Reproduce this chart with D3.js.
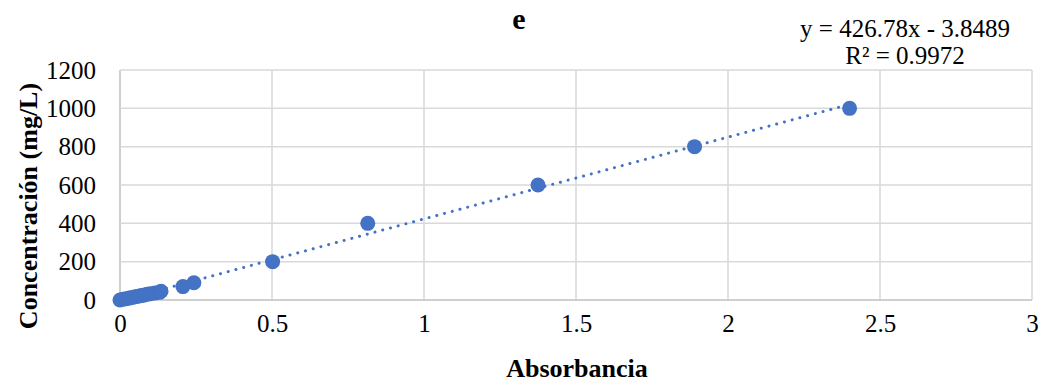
<!DOCTYPE html>
<html lang="en">
<head>
  <meta charset="UTF-8">
  <title>e</title>
  <script src="https://cdnjs.cloudflare.com/ajax/libs/d3/7.8.5/d3.min.js"></script>
  <style>
    body { margin: 0; background: white; }
    svg { display: block; font-family: "Liberation Serif", "Times New Roman", serif; }
  </style>
</head>
<body>
  <script>
    // absorbance vs concentration readings
    var absorbancia = [0, 0.01, 0.02, 0.03, 0.04, 0.05, 0.06, 0.07, 0.08, 0.09, 0.1, 0.115, 0.13, 0.135,
      0.207, 0.243, 0.502, 0.815, 1.375, 1.89, 2.4];
    var concentracion = [0, 4, 7, 10, 13, 17, 20, 23, 26, 30, 33, 37, 40, 46,
      70, 90, 200, 400, 600, 800, 1000];
    var xTicks = [0, 0.5, 1, 1.5, 2, 2.5, 3];
    var yTicks = [0, 200, 400, 600, 800, 1000, 1200];
    var slope = 426.78, intercept = -3.8489;

    var w = 1044, h = 386;
    var padL = 120, padR = 1032, padT = 70, padB = 300;
    var blue = "#4472C4";

    var dataset = absorbancia.map(function(d, i) {
      return { x: d, y: concentracion[i] };
    });

    var svg = d3.select("body").append("svg")
      .attr("width", w)
      .attr("height", h);

    var xScale = d3.scaleLinear().domain([0, 3]).range([padL, padR]);
    var yScale = d3.scaleLinear().domain([0, 1200]).range([padB, padT]);

    // grid
    svg.append("g").selectAll("line")
      .data(xTicks)
      .enter().append("line")
      .attr("x1", function(d) { return xScale(d); })
      .attr("x2", function(d) { return xScale(d); })
      .attr("y1", padT).attr("y2", padB)
      .attr("stroke", function(d) { return d === 0 ? "#bfbfbf" : "#d9d9d9"; })
      .attr("stroke-width", 1.5);

    svg.append("g").selectAll("line")
      .data(yTicks)
      .enter().append("line")
      .attr("x1", padL).attr("x2", padR)
      .attr("y1", function(d) { return yScale(d); })
      .attr("y2", function(d) { return yScale(d); })
      .attr("stroke", function(d) { return d === 0 ? "#bfbfbf" : "#d9d9d9"; })
      .attr("stroke-width", 1.5);

    // tick labels
    var xAxis = d3.axisBottom(xScale).tickValues(xTicks).tickSize(0).tickPadding(14)
      .tickFormat(function(d) { return d; });
    var gx = svg.append("g")
      .attr("transform", "translate(0," + padB + ")")
      .call(xAxis);
    gx.select(".domain").remove();
    gx.attr("font-size", 25).attr("font-family", "Liberation Serif");
    gx.selectAll("text").attr("fill", "#000");

    var yAxis = d3.axisLeft(yScale).tickValues(yTicks).tickSize(0).tickPadding(24)
      .tickFormat(function(d) { return d; });
    var gy = svg.append("g")
      .attr("transform", "translate(" + padL + ",0)")
      .call(yAxis);
    gy.select(".domain").remove();
    gy.attr("font-size", 25).attr("font-family", "Liberation Serif");
    gy.selectAll("text").attr("fill", "#000");

    // trendline
    var trend = [0, d3.max(absorbancia)];
    svg.append("line")
      .attr("x1", xScale(trend[0]))
      .attr("y1", yScale(slope * trend[0] + intercept))
      .attr("x2", xScale(trend[1]))
      .attr("y2", yScale(slope * trend[1] + intercept))
      .attr("stroke", blue)
      .attr("stroke-width", 3)
      .attr("stroke-linecap", "round")
      .attr("stroke-dasharray", "0.1 7.9");

    // points
    svg.append("g").selectAll("circle")
      .data(dataset)
      .enter().append("circle")
      .attr("cx", function(d) { return xScale(d.x); })
      .attr("cy", function(d) { return yScale(d.y); })
      .attr("r", 7.5)
      .attr("fill", blue);

    // titles
    svg.append("text")
      .attr("x", 519).attr("y", 29)
      .attr("text-anchor", "middle")
      .attr("font-size", 30).attr("font-weight", "bold")
      .text("e");

    svg.append("text")
      .attr("x", 577).attr("y", 377)
      .attr("text-anchor", "middle")
      .attr("font-size", 26).attr("font-weight", "bold")
      .text("Absorbancia");

    svg.append("text")
      .attr("transform", "translate(37,206) rotate(-90)")
      .attr("text-anchor", "middle")
      .attr("font-size", 26).attr("font-weight", "bold")
      .text("Concentración (mg/L)");

    // regression label
    svg.append("text")
      .attr("x", 905).attr("y", 37)
      .attr("text-anchor", "middle")
      .attr("font-size", 25)
      .text("y = 426.78x - 3.8489");
    svg.append("text")
      .attr("x", 905).attr("y", 64)
      .attr("text-anchor", "middle")
      .attr("font-size", 25)
      .text("R² = 0.9972");
  </script>
</body>
</html>
